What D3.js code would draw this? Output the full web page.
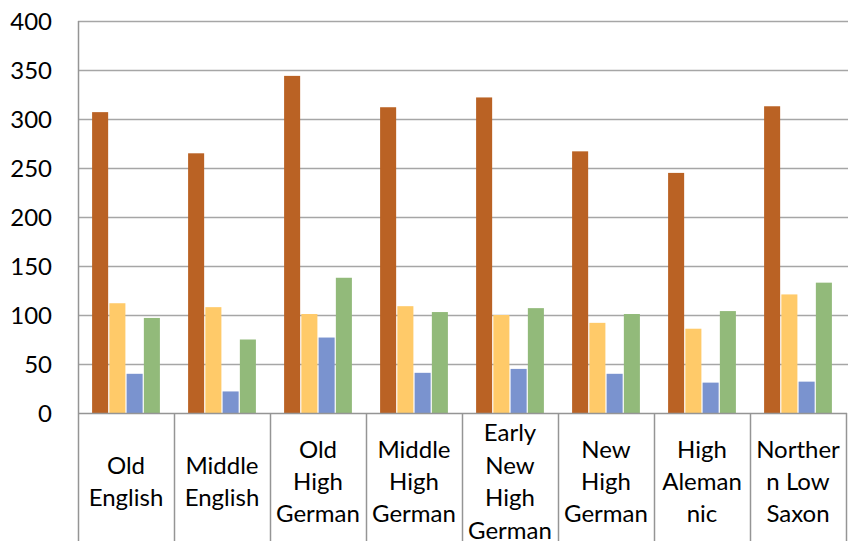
<!DOCTYPE html>
<html>
<head>
<meta charset="utf-8">
<script src="https://cdn.jsdelivr.net/npm/d3@7"></script>
<style>
  html, body { margin: 0; padding: 0; background: #fff; }
  svg { display: block; }
  text { font-family: Lato, "Open Sans", sans-serif; fill: #000; }
</style>
</head>
<body>
<svg id="chart" width="848" height="541"></svg>
<script>
// Language varieties along the category axis
const categories = [
  "Old English", "Middle English", "Old High German", "Middle High German",
  "Early New High German", "New High German", "High Alemannic", "Northern Low Saxon"
];
// Wrapped label lines as shown under each category
const categoryLines = [
  ["Old", "English"],
  ["Middle", "English"],
  ["Old", "High", "German"],
  ["Middle", "High", "German"],
  ["Early", "New", "High", "German"],
  ["New", "High", "German"],
  ["High", "Aleman", "nic"],
  ["Norther", "n Low", "Saxon"]
];
const seriesNames = ["Series 1", "Series 2", "Series 3", "Series 4"];
const series1 = [307, 265, 344, 312, 322, 267, 245, 313];
const series2 = [112, 108, 101, 109, 100, 92, 86, 121];
const series3 = [40, 22, 77, 41, 45, 40, 31, 32];
const series4 = [97, 75, 138, 103, 107, 101, 104, 133];
const seriesColors = ["#BA6224", "#FFCA69", "#7A93CF", "#92BA7A"];
const yTicks = [0, 50, 100, 150, 200, 250, 300, 350, 400];

const allSeries = [series1, series2, series3, series4];

const svg = d3.select("#chart");
const plotLeft = 78, plotRight = 846, plotTop = 21, plotBottom = 413;

const x = d3.scaleBand().domain(categories).range([plotLeft, plotRight]).padding(0);
const groupPad = 13.5;
const x1 = d3.scaleBand().domain(seriesNames)
  .range([groupPad, x.bandwidth() - groupPad]).padding(0);
const y = d3.scaleLinear().domain([0, 400]).range([plotBottom, plotTop]);

// Horizontal gridlines
svg.append("g")
  .selectAll("line")
  .data(yTicks.filter(d => d > 0))
  .join("line")
  .attr("x1", plotLeft).attr("x2", 848)
  .attr("y1", d => Math.round(y(d)) + 0.5).attr("y2", d => Math.round(y(d)) + 0.5)
  .attr("stroke", "#a6a6a6").attr("stroke-width", 1.5);

// Y axis labels
const yAxis = d3.axisLeft(y).tickValues(yTicks).tickSize(0).tickPadding(0);
const yg = svg.append("g").attr("transform", `translate(52,0)`).call(yAxis);
yg.select(".domain").remove();
yg.selectAll("text")
  .attr("font-family", "Lato, sans-serif")
  .attr("font-size", 24)
  .attr("fill", "#000")
  .attr("dy", "0.36em");

// Bars
const groups = svg.append("g")
  .selectAll("g")
  .data(categories)
  .join("g")
  .attr("transform", d => `translate(${x(d)},0)`);

groups.selectAll("rect")
  .data((d, i) => allSeries.map((s, k) => ({ name: seriesNames[k], value: s[i], color: seriesColors[k] })))
  .join("rect")
  .attr("x", d => x1(d.name) + 0.6)
  .attr("width", x1.bandwidth() - 1.2)
  .attr("y", d => y(d.value))
  .attr("height", d => y(0) - y(d.value))
  .attr("fill", d => d.color);

// Category axis: baseline plus boundary dividers running down through the label area
const xAxisG = svg.append("g");
xAxisG.append("line")
  .attr("x1", plotLeft).attr("x2", plotRight + 1)
  .attr("y1", plotBottom + 0.5).attr("y2", plotBottom + 0.5)
  .attr("stroke", "#959595").attr("stroke-width", 1.5);
const boundaries = categories.map(c => x(c)).concat([plotRight]);
xAxisG.selectAll("line.div")
  .data(boundaries)
  .join("line")
  .attr("class", "div")
  .attr("x1", d => Math.round(d) + 0.5).attr("x2", d => Math.round(d) + 0.5)
  .attr("y1", d => d === plotLeft ? plotTop : plotBottom)
  .attr("y2", 541)
  .attr("stroke", "#959595").attr("stroke-width", 1.5);

// Category labels
const lineH = 32.4, midBase = 490;
const labels = svg.append("g")
  .selectAll("text")
  .data(categories)
  .join("text")
  .attr("text-anchor", "middle")
  .attr("font-size", 24)
  .attr("x", d => x(d) + x.bandwidth() / 2);
labels.each(function(d, i) {
  const lines = categoryLines[i];
  const n = lines.length;
  d3.select(this).selectAll("tspan")
    .data(lines)
    .join("tspan")
    .attr("x", x(d) + x.bandwidth() / 2)
    .attr("y", (t, j) => midBase + (j - (n - 1) / 2) * lineH)
    .text(t => t);
});
</script>
</body>
</html>
